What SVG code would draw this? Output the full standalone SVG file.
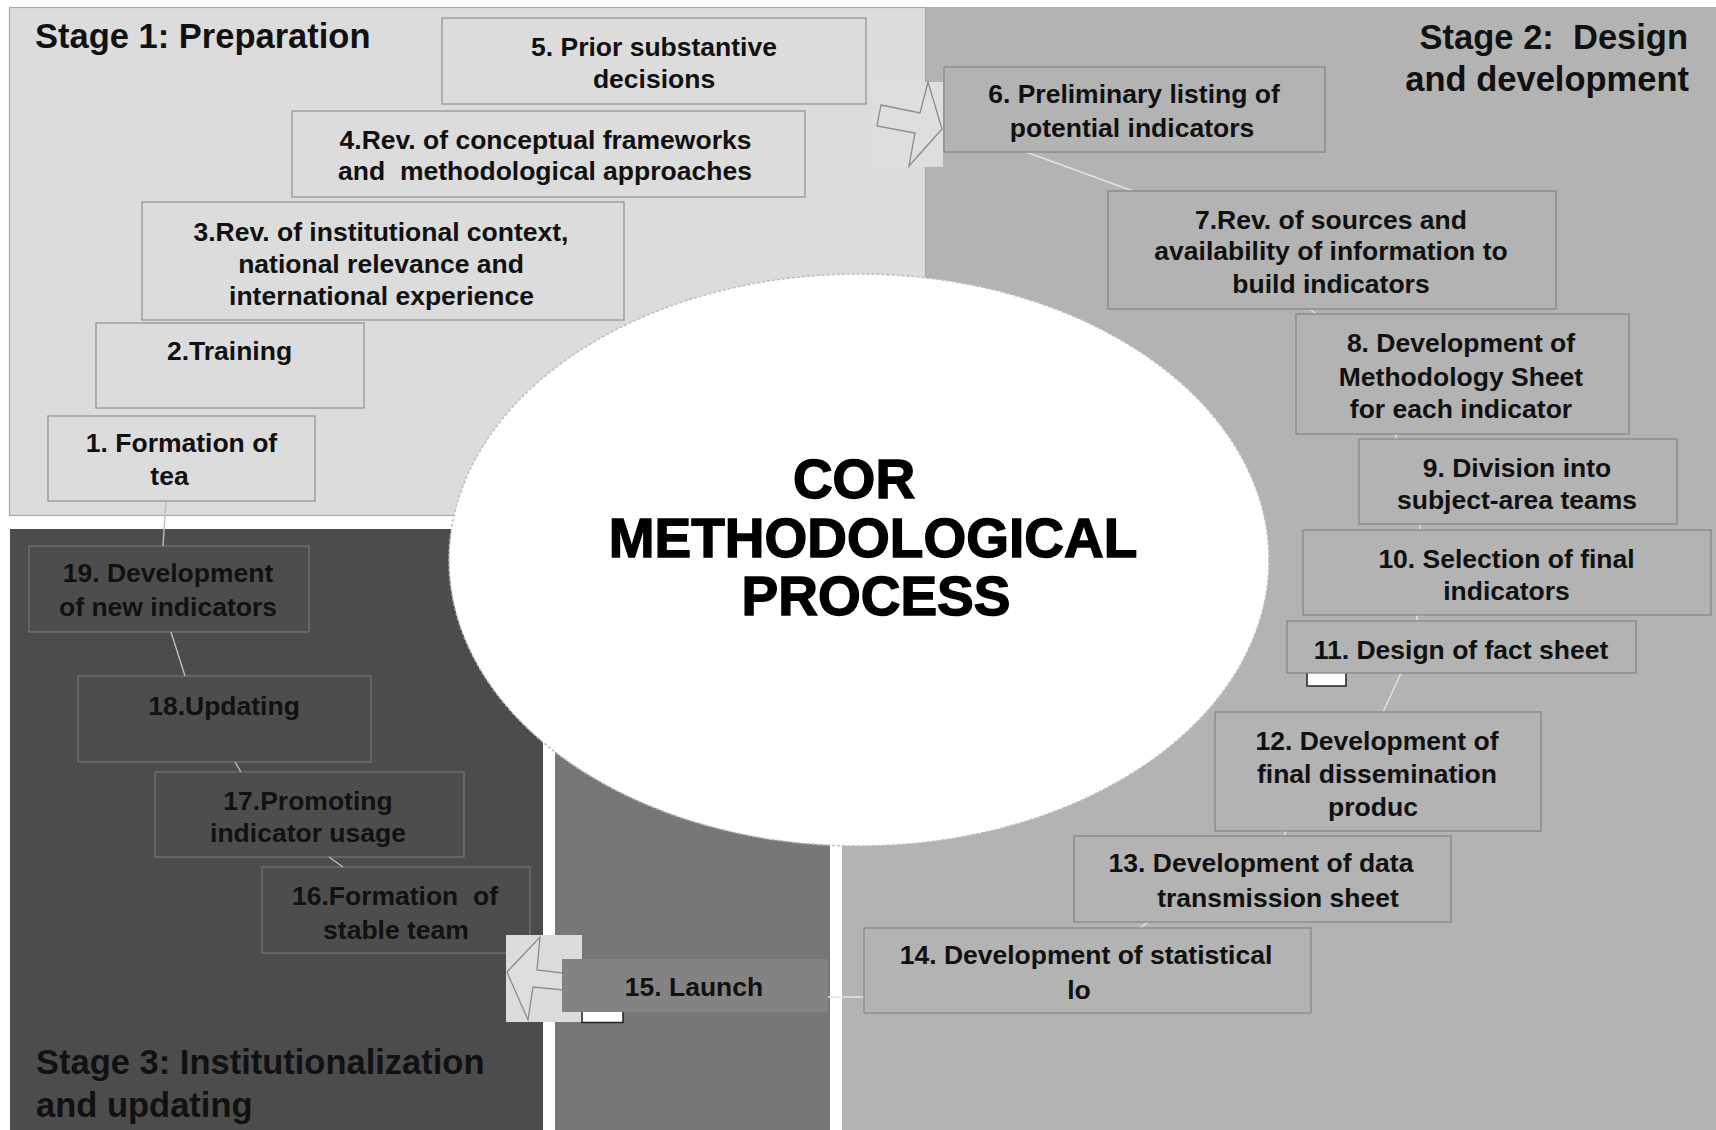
<svg xmlns="http://www.w3.org/2000/svg" width="1716" height="1130" viewBox="0 0 1716 1130">
<style>
  .t { font-family: "Liberation Sans", Arial, Helvetica, sans-serif; font-weight: bold; font-size: 26.5px; fill: #111; text-anchor: middle; }
  .ttl { font-family: "Liberation Sans", Arial, Helvetica, sans-serif; font-weight: bold; font-size: 34.5px; fill: #111; }
  .big { font-family: "Liberation Sans", Arial, Helvetica, sans-serif; font-weight: bold; font-size: 55px; fill: #000; stroke: #000; stroke-width: 1.4; text-anchor: middle; }
  .b1 { fill: #dcdcdc; stroke: #9a9a9a; stroke-width: 1.4; }
  .b2 { fill: #b3b3b3; stroke: #8a8a8a; stroke-width: 1.4; }
  .b3 { fill: #4d4d4d; stroke: #6f6f6f; stroke-width: 1.4; }
  .cl { stroke: #e4e4e4; stroke-width: 1.4; fill: none; }
  .cd { stroke: #bdbdbd; stroke-width: 1.4; fill: none; }
  .arr { fill: #dedede; stroke: #8c8c8c; stroke-width: 1.3; }
  .mark { fill: #ffffff; stroke: #222; stroke-width: 1.5; }
</style>
<rect width="1716" height="1130" fill="#ffffff"/>

<g id="panels">
  <rect id="stage2-panel" x="842" y="7" width="874" height="1123" fill="#b3b3b3"/>
  <rect id="stage1-panel" x="9.5" y="7.5" width="916" height="508" fill="#dcdcdc" stroke="#a9a9a9" stroke-width="1.2"/>
  <rect id="stage3-panel" x="10" y="529" width="533" height="601" fill="#4c4c4c"/>
  <rect id="launch-panel" x="555" y="700" width="275" height="430" fill="#777777"/>
</g>

<g id="n16"><rect class="b3" x="262" y="867" width="268" height="86"/>
  <text class="t" x="395" y="905" xml:space="preserve">16.Formation  of</text><text class="t" x="396" y="938.5">stable team</text></g>
<g id="n17"><rect class="b3" x="155" y="772" width="309" height="85"/>
  <text class="t" x="308" y="810">17.Promoting</text><text class="t" x="308" y="842">indicator usage</text></g>
<g id="n18"><rect class="b3" x="78" y="676" width="293" height="86"/>
  <text class="t" x="224" y="714.5">18.Updating</text></g>
<g id="n19"><rect class="b3" x="29" y="546" width="280" height="86"/>
  <text class="t" x="168" y="581.5">19. Development</text><text class="t" x="168" y="615.5">of new indicators</text></g>

<g id="connectors">
  <line class="cd" x1="166" y1="501" x2="163" y2="546"/>
  <line class="cd" x1="171" y1="632" x2="185" y2="676"/>
  <line class="cd" x1="235" y1="762" x2="241" y2="772"/>
  <line class="cd" x1="329" y1="857" x2="343" y2="867"/>
  <line class="cl" x1="1026" y1="152" x2="1133" y2="191"/>
  <line class="cl" x1="1310" y1="309" x2="1316" y2="314"/>
  <line class="cl" x1="1396" y1="434" x2="1396" y2="439"/>
  <line class="cl" x1="1420" y1="524" x2="1420" y2="530"/>
  <line class="cl" x1="1417" y1="615" x2="1417" y2="621"/>
  <line class="cl" x1="1401" y1="673" x2="1383" y2="712"/>
  <line class="cl" x1="1286" y1="831" x2="1284" y2="836"/>
  <line class="cl" x1="1148" y1="922" x2="1140" y2="928"/>
  <line class="cl" x1="826" y1="997" x2="864" y2="997"/>
  <g id="arrow-5-6">
    <rect x="872" y="82" width="71" height="85" fill="#dedede"/>
    <polygon class="arr" points="881,105 920,113 928,82 942,129 909,166 915,133 877,126"/>
  </g>
  <g id="arrow-15-16">
    <rect x="506" y="935" width="76" height="87" fill="#dcdcdc"/>
    <polygon class="arr" points="540,937 537,970 563,973 563,990 533,987 528,1020 507,972"/>
  </g>
</g>

<g id="center">
  <ellipse cx="859" cy="560" rx="410" ry="286" fill="#ffffff" stroke="#bdbdbd" stroke-width="1.5" stroke-dasharray="3 2"/>
  <text class="big" x="854" y="498">COR</text>
  <text class="big" x="873" y="557">METHODOLOGICAL</text>
  <text class="big" x="876" y="615">PROCESS</text>
</g>

<g id="titles">
  <text class="ttl" x="35" y="48">Stage 1: Preparation</text>
  <text class="ttl" x="1688" y="49" text-anchor="end" xml:space="preserve">Stage 2:  Design</text>
  <text class="ttl" x="1689" y="91" text-anchor="end">and development</text>
  <text class="ttl" x="36" y="1074">Stage 3: Institutionalization</text>
  <text class="ttl" x="36" y="1117">and updating</text>
</g>

<g id="n5"><rect class="b1" x="442" y="18" width="424" height="86"/>
  <text class="t" x="654" y="56">5. Prior substantive</text><text class="t" x="654" y="87.5">decisions</text></g>
<g id="n4"><rect class="b1" x="292" y="111" width="513" height="86"/>
  <text class="t" x="545.5" y="148.5">4.Rev. of conceptual frameworks</text><text class="t" x="545" y="180" xml:space="preserve">and  methodological approaches</text></g>
<g id="n3"><rect class="b1" x="142" y="202" width="482" height="118"/>
  <text class="t" x="381" y="240.5">3.Rev. of institutional context,</text>
  <text class="t" x="381" y="272.5">national relevance and</text>
  <text class="t" x="381.5" y="304.5">international experience</text></g>
<g id="n2"><rect class="b1" x="96" y="323" width="268" height="85"/>
  <text class="t" x="229.5" y="360">2.Training</text></g>
<g id="n1"><rect class="b1" x="48" y="416" width="267" height="85"/>
  <text class="t" x="181.5" y="451.5">1. Formation of</text><text class="t" x="169.5" y="485">tea</text></g>

<g id="n6"><rect class="b2" x="944" y="67" width="381" height="85"/>
  <text class="t" x="1134" y="103">6. Preliminary listing of</text><text class="t" x="1132" y="137">potential indicators</text></g>
<g id="n7"><rect class="b2" x="1108" y="191" width="448" height="118"/>
  <text class="t" x="1331" y="228.5">7.Rev. of sources and</text>
  <text class="t" x="1331" y="260">availability of information to</text>
  <text class="t" x="1331" y="293">build indicators</text></g>
<g id="n8"><rect class="b2" x="1296" y="314" width="333" height="120"/>
  <text class="t" x="1461" y="352">8. Development of</text>
  <text class="t" x="1461" y="385.5">Methodology Sheet</text>
  <text class="t" x="1461" y="417.5">for each indicator</text></g>
<g id="n9"><rect class="b2" x="1359" y="439" width="318" height="85"/>
  <text class="t" x="1517" y="476.5">9. Division into</text><text class="t" x="1517" y="508.5">subject-area teams</text></g>
<g id="n10"><rect class="b2" x="1303" y="530" width="408" height="85"/>
  <text class="t" x="1506.5" y="567.5">10. Selection of final</text><text class="t" x="1506.5" y="599.5">indicators</text></g>
<g id="n11"><rect class="mark" x="1307" y="668" width="39" height="18"/>
  <rect class="b2" x="1287" y="621" width="349" height="52"/>
  <text class="t" x="1461" y="658.5">11. Design of fact sheet</text></g>
<g id="n12"><rect class="b2" x="1215" y="712" width="326" height="119"/>
  <text class="t" x="1377" y="749.5">12. Development of</text>
  <text class="t" x="1377" y="782.5">final dissemination</text>
  <text class="t" x="1373" y="815.5">produc</text></g>
<g id="n13"><rect class="b2" x="1074" y="836" width="377" height="86"/>
  <text class="t" x="1261" y="872">13. Development of data</text><text class="t" x="1278" y="907">transmission sheet</text></g>
<g id="n14"><rect class="b2" x="864" y="928" width="447" height="85"/>
  <text class="t" x="1086" y="963.5">14. Development of statistical</text><text class="t" x="1079" y="998.5">lo</text></g>

<g id="n15"><rect class="mark" x="582" y="1007" width="41" height="15.5"/>
  <rect x="562" y="959" width="266" height="53" fill="#838383"/>
  <text class="t" x="694" y="995.5">15. Launch</text></g>
</svg>
